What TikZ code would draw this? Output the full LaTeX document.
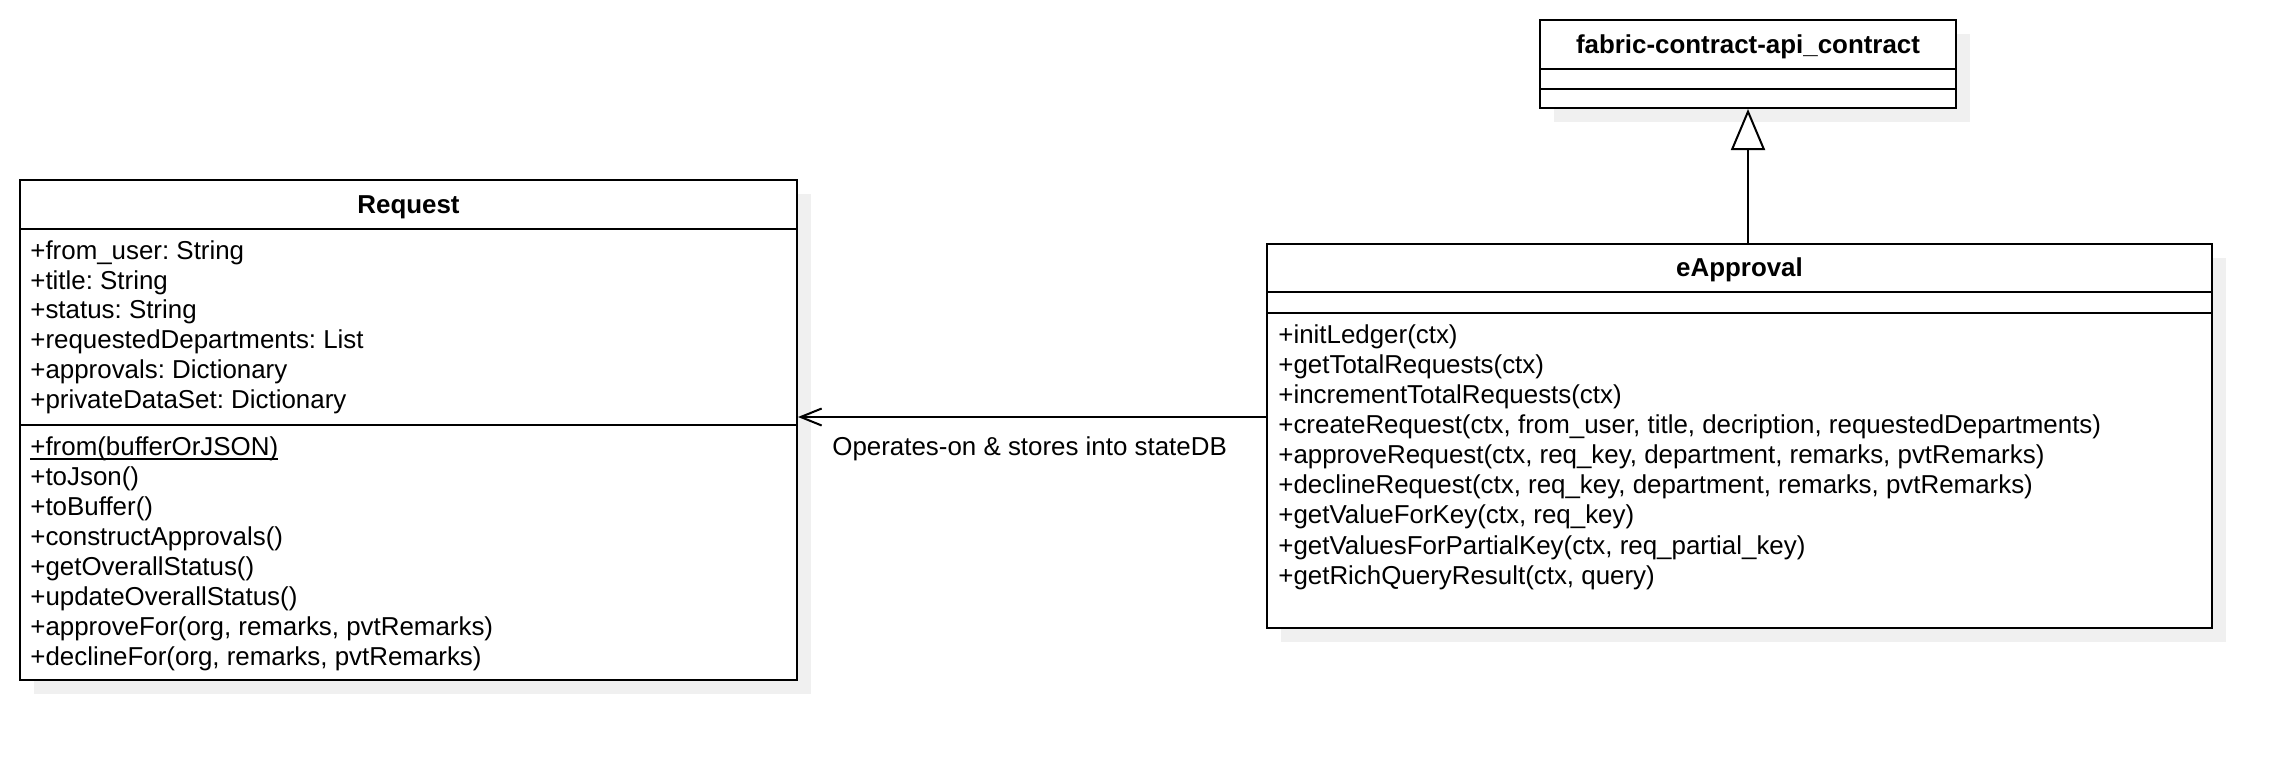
\documentclass[tikz,border=0pt]{standalone}
\usepackage{fontspec}
\setmainfont{Liberation Sans}
\usetikzlibrary{arrows.meta,shadows}
\definecolor{shadowgray}{RGB}{240,240,240}
\frenchspacing
\newcommand{\staticul}[1]{\setbox0\hbox{#1}\rlap{\rule[-2.2pt]{\wd0}{0.9pt}}\box0}

\tikzset{
  classbox/.style={draw, line width=1pt, fill=white, inner sep=0pt,
    general shadow={fill=shadowgray, shadow xshift=7pt, shadow yshift=-7pt}},
  classtitle/.style={inner sep=0pt, text height=9.3pt, text depth=0pt,
    font=\fontsize{12.95pt}{15pt}\selectfont\bfseries},
  member/.style={anchor=west, inner sep=0pt, text height=9.3pt, text depth=0pt,
    font=\fontsize{12.95pt}{15pt}\selectfont},
  divider/.style={line width=1pt},
  assoc/.style={line width=1pt, -{Straight Barb[length=10.5pt, width=8.5pt]}},
  inherit/.style={line width=1pt, -{Triangle[open, length=20.5pt, width=17pt, fill=white]}}
}

\begin{document}
\begin{tikzpicture}[x=0.5pt, y=-0.5pt]
            \useasboundingbox (0,0) rectangle (2292,760);

            %class boxes
            \node[classbox, minimum width=388.5pt, minimum height=250pt] (request) at (408.5, 430) {};
            \node[classbox, minimum width=472.5pt, minimum height=192pt] (eApproval) at (1739.5, 436) {};
            \node[classbox, minimum width=208pt, minimum height=44pt] (fabric) at (1748, 64) {};

            %compartment lines
            \draw[divider] ([yshift=-25pt]request.north west) -- ([yshift=-25pt]request.north east);
            \draw[divider] ([yshift=-123pt]request.north west) -- ([yshift=-123pt]request.north east);
            \draw[divider] ([yshift=-24.5pt]eApproval.north west) -- ([yshift=-24.5pt]eApproval.north east);
            \draw[divider] ([yshift=-35pt]eApproval.north west) -- ([yshift=-35pt]eApproval.north east);
            \draw[divider] ([yshift=-25pt]fabric.north west) -- ([yshift=-25pt]fabric.north east);
            \draw[divider] ([yshift=-35pt]fabric.north west) -- ([yshift=-35pt]fabric.north east);

            %class names
            \node[classtitle] (requestTitle) at ([yshift=-12.5pt]request.north) {Request};
            \node[classtitle] (eApprovalTitle) at ([yshift=-12.25pt]eApproval.north) {eApproval};
            \node[classtitle] (fabricTitle) at ([yshift=-12.5pt]fabric.north) {fabric-contract-api\_contract};

            %attributes and operations of Request
            \foreach \txt [count=\i from 0] in {+from\_user: String, +title: String, +status: String,
                +requestedDepartments: List, +approvals: Dictionary, +privateDataSet: Dictionary}
                \node[member] (reqAttr\i) at ([xshift=5.5pt, yshift={-(35.5+14.9*\i)*1pt}]request.north west) {\txt};

            \foreach \txt [count=\i from 0] in {\staticul{+from(bufferOrJSON)}, +toJson(), +toBuffer(),
                +constructApprovals(), +getOverallStatus(), +updateOverallStatus(),
                {+approveFor(org, remarks, pvtRemarks)}, {+declineFor(org, remarks, pvtRemarks)}}
                \node[member] (reqOp\i) at ([xshift=5.5pt, yshift={-(133.5+15*\i)*1pt}]request.north west) {\txt};

            %operations of eApproval
            \foreach \txt [count=\i from 0] in {+initLedger(ctx), +getTotalRequests(ctx), +incrementTotalRequests(ctx),
                {+createRequest(ctx, from\_user, title, decription, requestedDepartments)},
                {+approveRequest(ctx, req\_key, department, remarks, pvtRemarks)},
                {+declineRequest(ctx, req\_key, department, remarks, pvtRemarks)},
                {+getValueForKey(ctx, req\_key)}, {+getValuesForPartialKey(ctx, req\_partial\_key)},
                {+getRichQueryResult(ctx, query)}}
                \node[member] (appOp\i) at ([xshift=6pt, yshift={-(45.5+15.05*\i)*1pt}]eApproval.north west) {\txt};

            %relations
            \draw[inherit] ([xshift=4.25pt]eApproval.north) -- (fabric.south);
            \draw[assoc] ([yshift=9.5pt]eApproval.west) -- ([yshift=6.5pt]request.east);
            \node[member] (assocLabel) at (832, 446) {Operates-on \& stores into stateDB};

        \end{tikzpicture}
\end{document}
